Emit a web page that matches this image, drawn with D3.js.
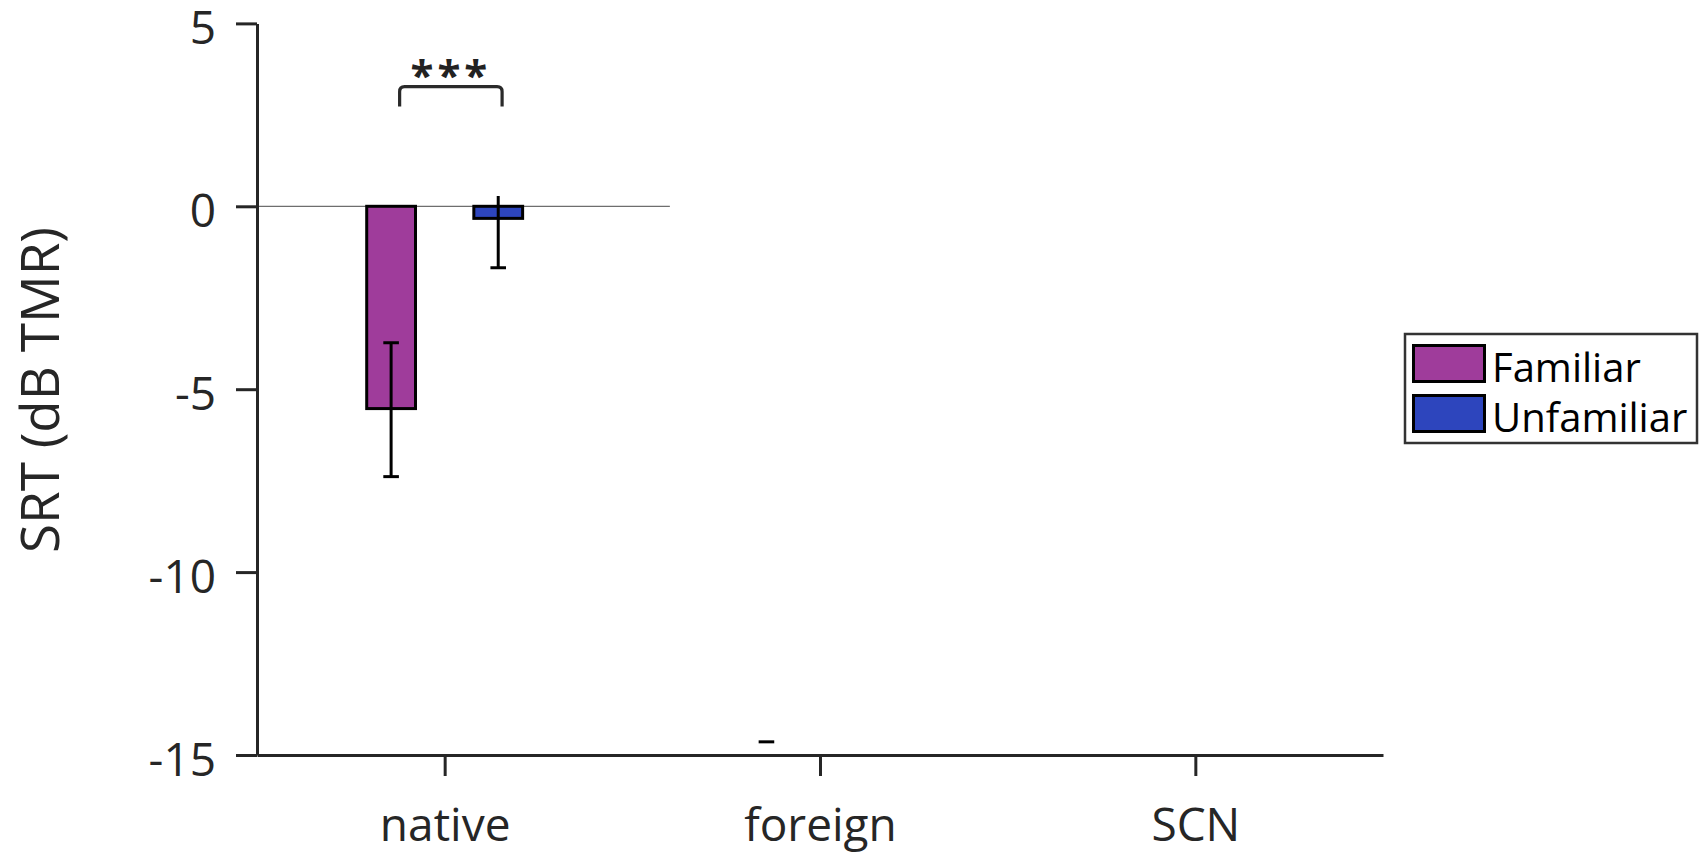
<!DOCTYPE html>
<html>
<head>
<meta charset="utf-8">
<script src="https://cdn.jsdelivr.net/npm/d3@7"></script>
<style>
  body { margin: 0; background: #fff; }
  svg { display: block; }
  text { font-family: "Open Sans", sans-serif; }
</style>
</head>
<body>
<div id="chart"></div>
<script>
// data
var categories = ["native", "foreign", "SCN"];
var seriesNames = ["Familiar", "Unfamiliar"];
var seriesColors = ["#9f3c9b", "#2d45bd"];
var familiarMean = [-5.53, null, null];
var unfamiliarMean = [-0.33, null, null];
var familiarErrHigh = [-3.73, -14.64, null];
var familiarErrLow = [-7.39, null, null];
var unfamiliarErrHigh = [0.28, null, null];
var unfamiliarErrLow = [-1.68, null, null];
var familiarCapHigh = [true, true, false];
var unfamiliarCapHigh = [false, false, false];
var yTicks = [5, 0, -5, -10, -15];
var zeroLineX = [0.5, 1.6];
var sigPair = { x: [0.88, 1.153], top: 3.27, leg: 2.73, label: "***" };

var width = 1704, height = 853;
var axisColor = "#262626";

var x = d3.scaleLinear().domain([0.5, 3.5]).range([257, 1383]);
var y = d3.scaleLinear().domain([-15, 5]).range([755, 23.4]);

var groupOffset = 0.1427, barWidth = 0.13;

var series = [
  { name: seriesNames[0], color: seriesColors[0], mean: familiarMean, hi: familiarErrHigh, lo: familiarErrLow, capHi: familiarCapHigh, off: -groupOffset },
  { name: seriesNames[1], color: seriesColors[1], mean: unfamiliarMean, hi: unfamiliarErrHigh, lo: unfamiliarErrLow, capHi: unfamiliarCapHigh, off: groupOffset }
];

var svg = d3.select("#chart").append("svg")
  .attr("width", width)
  .attr("height", height);

svg.append("defs").append("clipPath").attr("id", "plot")
  .append("rect")
  .attr("x", x(0.5)).attr("y", y(5))
  .attr("width", x(3.5) - x(0.5)).attr("height", y(-15) - y(5));

var plot = svg.append("g").attr("clip-path", "url(#plot)");

// zero reference line
plot.append("line")
  .attr("x1", x(zeroLineX[0])).attr("x2", x(zeroLineX[1]))
  .attr("y1", y(0)).attr("y2", y(0))
  .style("stroke", "#6e6e6e")
  .style("stroke-width", 1.3);

// bars
series.forEach(function(s) {
  plot.append("g").selectAll("rect")
    .data(categories.map(function(c, i) { return { i: i, v: s.mean[i] }; })
      .filter(function(d) { return d.v != null; }))
    .enter().append("rect")
    .attr("x", function(d) { return x(d.i + 1 + s.off - barWidth / 2); })
    .attr("width", function(d) { return x(barWidth) - x(0); })
    .attr("y", function(d) { return Math.min(y(0), y(d.v)); })
    .attr("height", function(d) { return Math.abs(y(d.v) - y(0)); })
    .style("fill", s.color)
    .style("stroke", "#000")
    .style("stroke-width", 3);
});

// error bars
var capHalf = 7.8;
series.forEach(function(s) {
  categories.forEach(function(c, i) {
    var cx = x(i + 1 + s.off);
    var g = plot.append("g").style("stroke", "#000").style("stroke-width", 3);
    if (s.hi[i] != null && s.lo[i] != null) {
      g.append("line").attr("x1", cx).attr("x2", cx)
        .attr("y1", y(s.hi[i])).attr("y2", y(s.lo[i]));
    }
    if (s.lo[i] != null) {
      g.append("line").attr("x1", cx - capHalf).attr("x2", cx + capHalf)
        .attr("y1", y(s.lo[i])).attr("y2", y(s.lo[i]));
    }
    if (s.hi[i] != null && s.capHi[i]) {
      g.append("line").attr("x1", cx - capHalf).attr("x2", cx + capHalf)
        .attr("y1", y(s.hi[i])).attr("y2", y(s.hi[i]));
    }
  });
});

// axes
var yAxis = svg.append("g")
  .attr("transform", "translate(" + x(0.5) + ",0)")
  .call(d3.axisLeft(y).tickValues(yTicks).tickSize(21).tickSizeOuter(0).tickPadding(20)
    .tickFormat(function(d) { return String(d); }));

var xAxis = svg.append("g")
  .attr("transform", "translate(0," + y(-15) + ")")
  .call(d3.axisBottom(x).tickValues([1, 2, 3]).tickSize(21).tickSizeOuter(0)
    .tickFormat(function(d) { return categories[d - 1]; }));

[yAxis, xAxis].forEach(function(a) {
  a.select(".domain").style("stroke", axisColor).style("stroke-width", 3);
  a.selectAll(".tick line").style("stroke", axisColor).style("stroke-width", 3);
  a.selectAll(".tick text")
    .style("font-family", "Open Sans")
    .style("font-size", "46px")
    .style("fill", axisColor);
});
yAxis.selectAll(".tick text").attr("dy", "0.44em");
xAxis.selectAll(".tick text").attr("y", 53).attr("dy", "0.71em");

// y label
svg.append("text")
  .attr("transform", "translate(59,390)rotate(-90)")
  .attr("text-anchor", "middle")
  .style("font-size", "53px")
  .style("fill", axisColor)
  .text("SRT (dB TMR)");

// significance bracket
var bx1 = x(sigPair.x[0]), bx2 = x(sigPair.x[1]);
var bt = y(sigPair.top), bl = y(sigPair.leg), r = 5;
svg.append("path")
  .attr("d", "M" + bx1 + "," + bl + "L" + bx1 + "," + (bt + r) +
    "Q" + bx1 + "," + bt + " " + (bx1 + r) + "," + bt +
    "L" + (bx2 - r) + "," + bt +
    "Q" + bx2 + "," + bt + " " + bx2 + "," + (bt + r) +
    "L" + bx2 + "," + bl)
  .style("fill", "none")
  .style("stroke", "#2a2a2a")
  .style("stroke-width", 3.2);

svg.append("text")
  .attr("x", (bx1 + bx2) / 2)
  .attr("y", bt + 3)
  .attr("text-anchor", "middle")
  .style("font-size", "42px")
  .style("font-weight", "bold")
  .style("letter-spacing", "4px")
  .style("fill", "#222")
  .text(sigPair.label);

// legend
var legend = svg.append("g").attr("transform", "translate(1405,334)");
legend.append("rect")
  .attr("width", 292).attr("height", 109)
  .style("fill", "#fff")
  .style("stroke", "#333")
  .style("stroke-width", 2.5);

var item = legend.selectAll(".item")
  .data(series)
  .enter().append("g")
  .attr("class", "item")
  .attr("transform", function(d, i) { return "translate(0," + (i * 50) + ")"; });

item.append("rect")
  .attr("x", 8.5).attr("y", 11.5)
  .attr("width", 71).attr("height", 36)
  .style("fill", function(d) { return d.color; })
  .style("stroke", "#000")
  .style("stroke-width", 3);

item.append("text")
  .attr("x", 87)
  .attr("y", 48)
  .style("font-size", "40px")
  .style("fill", "#000")
  .text(function(d) { return d.name; });
</script>
</body>
</html>
